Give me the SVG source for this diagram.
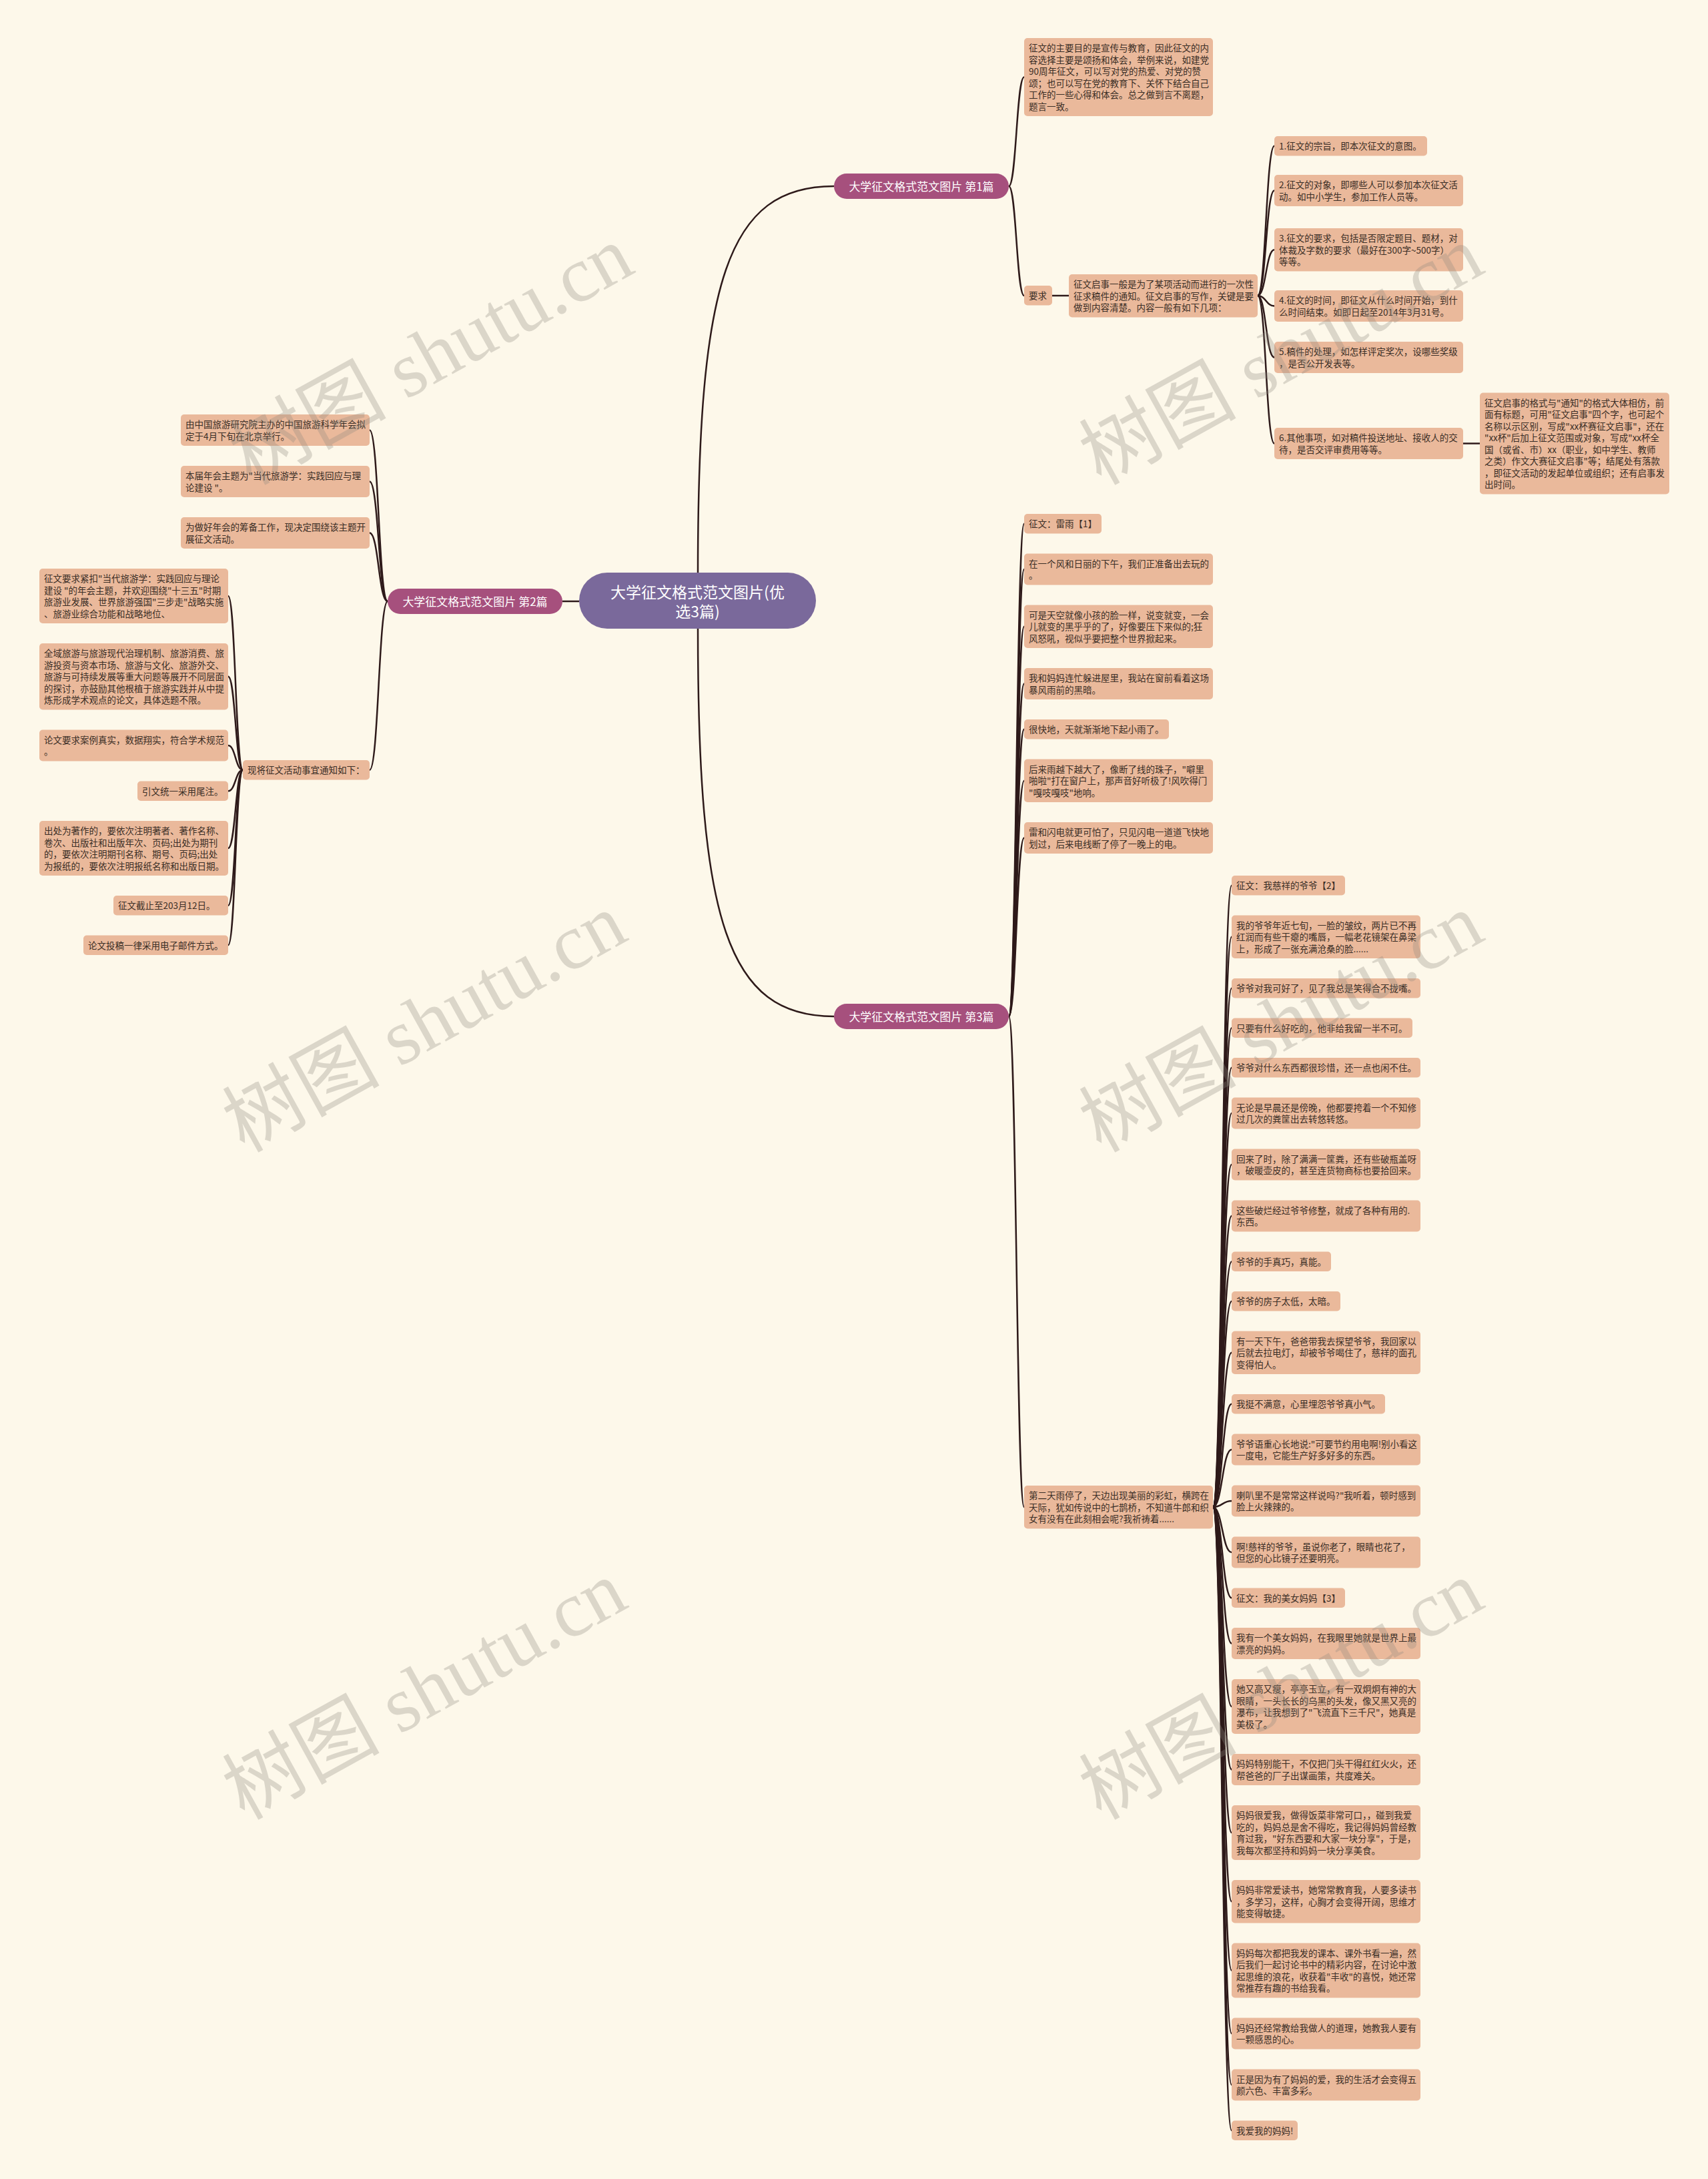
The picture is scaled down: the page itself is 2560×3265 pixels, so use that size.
<svg xmlns="http://www.w3.org/2000/svg" width="2560" height="3265" viewBox="0 0 2560 3265">
<style>
.bg{fill:#fdf8ea}
.box{fill:#eab99b}
.t{font-family:"Noto Sans CJK SC","Noto Sans",sans-serif;font-size:13.5px;fill:#3a2e26}
.ln{fill:none;stroke:#2e1a1a;stroke-width:2.5}
.br{fill:#a6507d}
.bt{font-family:"Noto Sans CJK SC","Noto Sans",sans-serif;font-size:17px;fill:#ffffff;text-anchor:middle}
.rootb{fill:#7a699b}
.rt{font-family:"Noto Sans CJK SC","Noto Sans",sans-serif;font-size:23px;fill:#ffffff;text-anchor:middle}
.wm{font-family:"Liberation Serif","Noto Sans CJK SC",serif;font-size:118px;fill:#8f8a80;opacity:0.3}
</style>
<rect class="bg" x="0" y="0" width="2560" height="3265"/>

<g id="connectors">
<path class="ln" d="M1046,858 C1046,420 1090,279 1250,279"/>
<path class="ln" d="M868,901 L843,901"/>
<path class="ln" d="M1046,942 C1046,1380 1090,1523 1250,1523"/>
<path class="ln" d="M1512,279 C1523.5,279 1523.5,115.5 1535,115.5"/>
<path class="ln" d="M1512,279 C1523.5,279 1523.5,443 1535,443"/>
<path class="ln" d="M1577,443 L1602,443"/>
<path class="ln" d="M1885,443 C1897.5,443 1897.5,218.75 1910,218.75"/>
<path class="ln" d="M1885,443 C1897.5,443 1897.5,285.5 1910,285.5"/>
<path class="ln" d="M1885,443 C1897.5,443 1897.5,374.25 1910,374.25"/>
<path class="ln" d="M1885,443 C1897.5,443 1897.5,458.5 1910,458.5"/>
<path class="ln" d="M1885,443 C1897.5,443 1897.5,535.5 1910,535.5"/>
<path class="ln" d="M1885,443 C1897.5,443 1897.5,664.5 1910,664.5"/>
<path class="ln" d="M2193,664.5 L2218,664.5"/>
<path class="ln" d="M581,901 C567.5,901 567.5,644.5 554,644.5"/>
<path class="ln" d="M581,901 C567.5,901 567.5,721.5 554,721.5"/>
<path class="ln" d="M581,901 C567.5,901 567.5,798.5 554,798.5"/>
<path class="ln" d="M581,901 C567.5,901 567.5,1153.75 554,1153.75"/>
<path class="ln" d="M364,1153.75 C353,1153.75 353,893 342,893"/>
<path class="ln" d="M364,1153.75 C353,1153.75 353,1013.75 342,1013.75"/>
<path class="ln" d="M364,1153.75 C353,1153.75 353,1117 342,1117"/>
<path class="ln" d="M364,1153.75 C353,1153.75 353,1185.25 342,1185.25"/>
<path class="ln" d="M364,1153.75 C353,1153.75 353,1271 342,1271"/>
<path class="ln" d="M364,1153.75 C353,1153.75 353,1356.75 342,1356.75"/>
<path class="ln" d="M364,1153.75 C353,1153.75 353,1416.25 342,1416.25"/>
<path class="ln" d="M1512,1523 C1523.5,1523 1523.5,784.75 1535,784.75"/>
<path class="ln" d="M1512,1523 C1523.5,1523 1523.5,853 1535,853"/>
<path class="ln" d="M1512,1523 C1523.5,1523 1523.5,938.75 1535,938.75"/>
<path class="ln" d="M1512,1523 C1523.5,1523 1523.5,1024.5 1535,1024.5"/>
<path class="ln" d="M1512,1523 C1523.5,1523 1523.5,1092.75 1535,1092.75"/>
<path class="ln" d="M1512,1523 C1523.5,1523 1523.5,1169.75 1535,1169.75"/>
<path class="ln" d="M1512,1523 C1523.5,1523 1523.5,1255.5 1535,1255.5"/>
<path class="ln" d="M1512,1523 C1523.5,1523 1523.5,2258.25 1535,2258.25"/>
<path class="ln" d="M1818,2258.25 C1832,2258.25 1832,1326.75 1846,1326.75"/>
<path class="ln" d="M1818,2258.25 C1832,2258.25 1832,1403.75 1846,1403.75"/>
<path class="ln" d="M1818,2258.25 C1832,2258.25 1832,1480.75 1846,1480.75"/>
<path class="ln" d="M1818,2258.25 C1832,2258.25 1832,1540.25 1846,1540.25"/>
<path class="ln" d="M1818,2258.25 C1832,2258.25 1832,1599.75 1846,1599.75"/>
<path class="ln" d="M1818,2258.25 C1832,2258.25 1832,1668 1846,1668"/>
<path class="ln" d="M1818,2258.25 C1832,2258.25 1832,1745 1846,1745"/>
<path class="ln" d="M1818,2258.25 C1832,2258.25 1832,1822 1846,1822"/>
<path class="ln" d="M1818,2258.25 C1832,2258.25 1832,1890.25 1846,1890.25"/>
<path class="ln" d="M1818,2258.25 C1832,2258.25 1832,1949.75 1846,1949.75"/>
<path class="ln" d="M1818,2258.25 C1832,2258.25 1832,2026.75 1846,2026.75"/>
<path class="ln" d="M1818,2258.25 C1832,2258.25 1832,2103.75 1846,2103.75"/>
<path class="ln" d="M1818,2258.25 C1832,2258.25 1832,2172 1846,2172"/>
<path class="ln" d="M1818,2258.25 C1832,2258.25 1832,2249 1846,2249"/>
<path class="ln" d="M1818,2258.25 C1832,2258.25 1832,2326 1846,2326"/>
<path class="ln" d="M1818,2258.25 C1832,2258.25 1832,2394.25 1846,2394.25"/>
<path class="ln" d="M1818,2258.25 C1832,2258.25 1832,2462.5 1846,2462.5"/>
<path class="ln" d="M1818,2258.25 C1832,2258.25 1832,2557 1846,2557"/>
<path class="ln" d="M1818,2258.25 C1832,2258.25 1832,2651.5 1846,2651.5"/>
<path class="ln" d="M1818,2258.25 C1832,2258.25 1832,2746 1846,2746"/>
<path class="ln" d="M1818,2258.25 C1832,2258.25 1832,2849.25 1846,2849.25"/>
<path class="ln" d="M1818,2258.25 C1832,2258.25 1832,2952.5 1846,2952.5"/>
<path class="ln" d="M1818,2258.25 C1832,2258.25 1832,3047 1846,3047"/>
<path class="ln" d="M1818,2258.25 C1832,2258.25 1832,3124 1846,3124"/>
<path class="ln" d="M1818,2258.25 C1832,2258.25 1832,3192.25 1846,3192.25"/>
</g>

<g id="root"><rect class="rootb" x="868" y="858" width="355" height="84" rx="42"/>
<text class="rt"><tspan x="1045.5" y="895.5">大学征文格式范文图片(优</tspan><tspan x="1045.5" y="924.5">选3篇)</tspan></text></g>

<g id="b1"><rect class="br" x="1250" y="260" width="262" height="38" rx="19"/><text class="bt" x="1381" y="285.5">大学征文格式范文图片 第1篇</text></g>
<g id="b2"><rect class="br" x="581" y="882" width="262" height="38" rx="19"/><text class="bt" x="712" y="907.5">大学征文格式范文图片 第2篇</text></g>
<g id="b3"><rect class="br" x="1250" y="1504" width="262" height="38" rx="19"/><text class="bt" x="1381" y="1529.5">大学征文格式范文图片 第3篇</text></g>

<g id="n1_note"><rect class="box" x="1535" y="57" width="283" height="117" rx="5"/>
<text class="t"><tspan x="1542" y="77">征文的主要目的是宣传与教育，因此征文的内</tspan><tspan x="1542" y="94.5">容选择主要是颂扬和体会，举例来说，如建党</tspan><tspan x="1542" y="112">90周年征文，可以写对党的热爱、对党的赞</tspan><tspan x="1542" y="129.5">颂；也可以写在党的教育下、关怀下结合自己</tspan><tspan x="1542" y="147">工作的一些心得和体会。总之做到言不离题，</tspan><tspan x="1542" y="164.5">题言一致。</tspan></text></g>
<g id="n1_req"><rect class="box" x="1535" y="428" width="42" height="29.5" rx="5"/><text class="t" x="1542" y="448">要求</text></g>
<g id="n1_desc"><rect class="box" x="1602" y="411" width="283" height="64.5" rx="5"/>
<text class="t"><tspan x="1609" y="431">征文启事一般是为了某项活动而进行的一次性</tspan><tspan x="1609" y="448.5">征求稿件的通知。征文启事的写作，关键是要</tspan><tspan x="1609" y="466">做到内容清楚。内容一般有如下几项：</tspan></text></g>
<g id="n1_i1"><rect class="box" x="1910" y="204" width="229" height="29.5" rx="5"/><text class="t" x="1917" y="224">1.征文的宗旨，即本次征文的意图。</text></g>
<g id="n1_i2"><rect class="box" x="1910" y="262" width="283" height="47" rx="5"/><text class="t"><tspan x="1917" y="282">2.征文的对象，即哪些人可以参加本次征文活</tspan><tspan x="1917" y="299.5">动。如中小学生，参加工作人员等。</tspan></text></g>
<g id="n1_i3"><rect class="box" x="1910" y="342" width="283" height="64.5" rx="5"/><text class="t"><tspan x="1917" y="362">3.征文的要求，包括是否限定题目、题材，对</tspan><tspan x="1917" y="379.5">体裁及字数的要求（最好在300字~500字）</tspan><tspan x="1917" y="397">等等。</tspan></text></g>
<g id="n1_i4"><rect class="box" x="1910" y="435" width="283" height="47" rx="5"/><text class="t"><tspan x="1917" y="455">4.征文的时间，即征文从什么时间开始，到什</tspan><tspan x="1917" y="472.5">么时间结束。如即日起至2014年3月31号。</tspan></text></g>
<g id="n1_i5"><rect class="box" x="1910" y="512" width="283" height="47" rx="5"/><text class="t"><tspan x="1917" y="532">5.稿件的处理，如怎样评定奖次，设哪些奖级</tspan><tspan x="1917" y="549.5">，是否公开发表等。</tspan></text></g>
<g id="n1_i6"><rect class="box" x="1910" y="641" width="283" height="47" rx="5"/><text class="t"><tspan x="1917" y="661">6.其他事项，如对稿件投送地址、接收人的交</tspan><tspan x="1917" y="678.5">待，是否交评审费用等等。</tspan></text></g>
<g id="n1_fmt"><rect class="box" x="2218" y="588.5" width="284" height="152" rx="5"/><text class="t"><tspan x="2225" y="608.5">征文启事的格式与"通知"的格式大体相仿，前</tspan><tspan x="2225" y="626">面有标题，可用"征文启事"四个字，也可起个</tspan><tspan x="2225" y="643.5">名称以示区别，写成"xx杯赛征文启事"，还在</tspan><tspan x="2225" y="661">"xx杯"后加上征文范围或对象，写成"xx杯全</tspan><tspan x="2225" y="678.5">国（或省、市）xx（职业，如中学生、教师</tspan><tspan x="2225" y="696">之类）作文大赛征文启事"等；结尾处有落款</tspan><tspan x="2225" y="713.5">，即征文活动的发起单位或组织；还有启事发</tspan><tspan x="2225" y="731">出时间。</tspan></text></g>

<g id="n2_t1"><rect class="box" x="271" y="621" width="283" height="47" rx="5"/><text class="t"><tspan x="278" y="641">由中国旅游研究院主办的中国旅游科学年会拟</tspan><tspan x="278" y="658.5">定于4月下旬在北京举行。</tspan></text></g>
<g id="n2_t2"><rect class="box" x="271" y="698" width="283" height="47" rx="5"/><text class="t"><tspan x="278" y="718">本届年会主题为"当代旅游学：实践回应与理</tspan><tspan x="278" y="735.5">论建设 "。</tspan></text></g>
<g id="n2_t3"><rect class="box" x="271" y="775" width="283" height="47" rx="5"/><text class="t"><tspan x="278" y="795">为做好年会的筹备工作，现决定围绕该主题开</tspan><tspan x="278" y="812.5">展征文活动。</tspan></text></g>
<g id="n2_notice"><rect class="box" x="364" y="1139" width="190" height="29.5" rx="5"/><text class="t" x="371" y="1159">现将征文活动事宜通知如下：</text></g>
<g id="n2_c1"><rect class="box" x="59" y="852" width="283" height="82" rx="5"/><text class="t"><tspan x="66" y="872">征文要求紧扣"当代旅游学：实践回应与理论</tspan><tspan x="66" y="889.5">建设 "的年会主题，并欢迎围绕"十三五"时期</tspan><tspan x="66" y="907">旅游业发展、世界旅游强国"三步走"战略实施</tspan><tspan x="66" y="924.5">、旅游业综合功能和战略地位、</tspan></text></g>
<g id="n2_c2"><rect class="box" x="59" y="964" width="283" height="99.5" rx="5"/><text class="t"><tspan x="66" y="984">全域旅游与旅游现代治理机制、旅游消费、旅</tspan><tspan x="66" y="1001.5">游投资与资本市场、旅游与文化、旅游外交、</tspan><tspan x="66" y="1019">旅游与可持续发展等重大问题等展开不同层面</tspan><tspan x="66" y="1036.5">的探讨，亦鼓励其他根植于旅游实践并从中提</tspan><tspan x="66" y="1054">炼形成学术观点的论文，具体选题不限。</tspan></text></g>
<g id="n2_c3"><rect class="box" x="59" y="1093.5" width="283" height="47" rx="5"/><text class="t"><tspan x="66" y="1113.5">论文要求案例真实，数据翔实，符合学术规范</tspan><tspan x="66" y="1131">。</tspan></text></g>
<g id="n2_c4"><rect class="box" x="206" y="1170.5" width="136" height="29.5" rx="5"/><text class="t" x="213" y="1190.5">引文统一采用尾注。</text></g>
<g id="n2_c5"><rect class="box" x="59" y="1230" width="283" height="82" rx="5"/><text class="t"><tspan x="66" y="1250">出处为著作的，要依次注明著者、著作名称、</tspan><tspan x="66" y="1267.5">卷次、出版社和出版年次、页码;出处为期刊</tspan><tspan x="66" y="1285">的，要依次注明期刊名称、期号、页码;出处</tspan><tspan x="66" y="1302.5">为报纸的，要依次注明报纸名称和出版日期。</tspan></text></g>
<g id="n2_c6"><rect class="box" x="170" y="1342" width="172" height="29.5" rx="5"/><text class="t" x="177" y="1362">征文截止至203月12日。</text></g>
<g id="n2_c7"><rect class="box" x="125" y="1401.5" width="217" height="29.5" rx="5"/><text class="t" x="132" y="1421.5">论文投稿一律采用电子邮件方式。</text></g>

<g id="n3_a1"><rect class="box" x="1535" y="770" width="116" height="29.5" rx="5"/><text class="t" x="1542" y="790">征文：雷雨【1】</text></g>
<g id="n3_a2"><rect class="box" x="1535" y="829.5" width="283" height="47" rx="5"/><text class="t"><tspan x="1542" y="849.5">在一个风和日丽的下午，我们正准备出去玩的</tspan><tspan x="1542" y="867">。</tspan></text></g>
<g id="n3_a3"><rect class="box" x="1535" y="906.5" width="283" height="64.5" rx="5"/><text class="t"><tspan x="1542" y="926.5">可是天空就像小孩的脸一样，说变就变，一会</tspan><tspan x="1542" y="944">儿就变的黑乎乎的了，好像要压下来似的;狂</tspan><tspan x="1542" y="961.5">风怒吼，视似乎要把整个世界掀起来。</tspan></text></g>
<g id="n3_a4"><rect class="box" x="1535" y="1001" width="283" height="47" rx="5"/><text class="t"><tspan x="1542" y="1021">我和妈妈连忙躲进屋里，我站在窗前看着这场</tspan><tspan x="1542" y="1038.5">暴风雨前的黑暗。</tspan></text></g>
<g id="n3_a5"><rect class="box" x="1535" y="1078" width="217" height="29.5" rx="5"/><text class="t" x="1542" y="1098">很快地，天就渐渐地下起小雨了。</text></g>
<g id="n3_a6"><rect class="box" x="1535" y="1137.5" width="283" height="64.5" rx="5"/><text class="t"><tspan x="1542" y="1157.5">后来雨越下越大了，像断了线的珠子，"噼里</tspan><tspan x="1542" y="1175">啪啦"打在窗户上，那声音好听极了!风吹得门</tspan><tspan x="1542" y="1192.5">"嘎吱嘎吱"地响。</tspan></text></g>
<g id="n3_a7"><rect class="box" x="1535" y="1232" width="283" height="47" rx="5"/><text class="t"><tspan x="1542" y="1252">雷和闪电就更可怕了，只见闪电一道道飞快地</tspan><tspan x="1542" y="1269.5">划过，后来电线断了停了一晚上的电。</tspan></text></g>
<g id="n3_a8"><rect class="box" x="1535" y="2226" width="283" height="64.5" rx="5"/><text class="t"><tspan x="1542" y="2246">第二天雨停了，天边出现美丽的彩虹，横跨在</tspan><tspan x="1542" y="2263.5">天际，犹如传说中的七鹊桥，不知道牛郎和织</tspan><tspan x="1542" y="2281">女有没有在此刻相会呢?我祈祷着......</tspan></text></g>

<g id="n3_b1"><rect class="box" x="1846" y="1312" width="170" height="29.5" rx="5"/><text class="t" x="1853" y="1332">征文：我慈祥的爷爷【2】</text></g>
<g id="n3_b2"><rect class="box" x="1846" y="1371.5" width="283" height="64.5" rx="5"/><text class="t"><tspan x="1853" y="1391.5">我的爷爷年近七旬，一脸的皱纹，两片已不再</tspan><tspan x="1853" y="1409">红润而有些干瘪的嘴唇，一幅老花镜架在鼻梁</tspan><tspan x="1853" y="1426.5">上，形成了一张充满沧桑的脸......</tspan></text></g>
<g id="n3_b3"><rect class="box" x="1846" y="1466" width="283" height="29.5" rx="5"/><text class="t" x="1853" y="1486">爷爷对我可好了，见了我总是笑得合不拢嘴。</text></g>
<g id="n3_b4"><rect class="box" x="1846" y="1525.5" width="271" height="29.5" rx="5"/><text class="t" x="1853" y="1545.5">只要有什么好吃的，他非给我留一半不可。</text></g>
<g id="n3_b5"><rect class="box" x="1846" y="1585" width="283" height="29.5" rx="5"/><text class="t" x="1853" y="1605">爷爷对什么东西都很珍惜，还一点也闲不住。</text></g>
<g id="n3_b6"><rect class="box" x="1846" y="1644.5" width="283" height="47" rx="5"/><text class="t"><tspan x="1853" y="1664.5">无论是早晨还是傍晚，他都要挎着一个不知修</tspan><tspan x="1853" y="1682">过几次的粪筐出去转悠转悠。</tspan></text></g>
<g id="n3_b7"><rect class="box" x="1846" y="1721.5" width="283" height="47" rx="5"/><text class="t"><tspan x="1853" y="1741.5">回来了时，除了满满一筐粪，还有些破瓶盖呀</tspan><tspan x="1853" y="1759">，破暖壶皮的，甚至连货物商标也要拾回来。</tspan></text></g>
<g id="n3_b8"><rect class="box" x="1846" y="1798.5" width="283" height="47" rx="5"/><text class="t"><tspan x="1853" y="1818.5">这些破烂经过爷爷修整，就成了各种有用的.</tspan><tspan x="1853" y="1836">东西。</tspan></text></g>
<g id="n3_b9"><rect class="box" x="1846" y="1875.5" width="149" height="29.5" rx="5"/><text class="t" x="1853" y="1895.5">爷爷的手真巧，真能。</text></g>
<g id="n3_b10"><rect class="box" x="1846" y="1935" width="163" height="29.5" rx="5"/><text class="t" x="1853" y="1955">爷爷的房子太低，太暗。</text></g>
<g id="n3_b11"><rect class="box" x="1846" y="1994.5" width="283" height="64.5" rx="5"/><text class="t"><tspan x="1853" y="2014.5">有一天下午，爸爸带我去探望爷爷，我回家以</tspan><tspan x="1853" y="2032">后就去拉电灯，却被爷爷喝住了，慈祥的面孔</tspan><tspan x="1853" y="2049.5">变得怕人。</tspan></text></g>
<g id="n3_b12"><rect class="box" x="1846" y="2089" width="230" height="29.5" rx="5"/><text class="t" x="1853" y="2109">我挺不满意，心里埋怨爷爷真小气。</text></g>
<g id="n3_b13"><rect class="box" x="1846" y="2148.5" width="283" height="47" rx="5"/><text class="t"><tspan x="1853" y="2168.5">爷爷语重心长地说:"可要节约用电啊!别小看这</tspan><tspan x="1853" y="2186">一度电，它能生产好多好多的东西。</tspan></text></g>
<g id="n3_b14"><rect class="box" x="1846" y="2225.5" width="283" height="47" rx="5"/><text class="t"><tspan x="1853" y="2245.5">喇叭里不是常常这样说吗?"我听着，顿时感到</tspan><tspan x="1853" y="2263">脸上火辣辣的。</tspan></text></g>
<g id="n3_b15"><rect class="box" x="1846" y="2302.5" width="283" height="47" rx="5"/><text class="t"><tspan x="1853" y="2322.5">啊!慈祥的爷爷，虽说你老了，眼睛也花了，</tspan><tspan x="1853" y="2340">但您的心比镜子还要明亮。</tspan></text></g>
<g id="n3_b16"><rect class="box" x="1846" y="2379.5" width="170" height="29.5" rx="5"/><text class="t" x="1853" y="2399.5">征文：我的美女妈妈【3】</text></g>
<g id="n3_b17"><rect class="box" x="1846" y="2439" width="283" height="47" rx="5"/><text class="t"><tspan x="1853" y="2459">我有一个美女妈妈，在我眼里她就是世界上最</tspan><tspan x="1853" y="2476.5">漂亮的妈妈。</tspan></text></g>
<g id="n3_b18"><rect class="box" x="1846" y="2516" width="283" height="82" rx="5"/><text class="t"><tspan x="1853" y="2536">她又高又瘦，亭亭玉立，有一双炯炯有神的大</tspan><tspan x="1853" y="2553.5">眼睛，一头长长的乌黑的头发，像又黑又亮的</tspan><tspan x="1853" y="2571">瀑布，让我想到了"飞流直下三千尺"，她真是</tspan><tspan x="1853" y="2588.5">美极了。</tspan></text></g>
<g id="n3_b19"><rect class="box" x="1846" y="2628" width="283" height="47" rx="5"/><text class="t"><tspan x="1853" y="2648">妈妈特别能干，不仅把门头干得红红火火，还</tspan><tspan x="1853" y="2665.5">帮爸爸的厂子出谋画策，共度难关。</tspan></text></g>
<g id="n3_b20"><rect class="box" x="1846" y="2705" width="283" height="82" rx="5"/><text class="t"><tspan x="1853" y="2725">妈妈很爱我，做得饭菜非常可口，，碰到我爱</tspan><tspan x="1853" y="2742.5">吃的，妈妈总是舍不得吃，我记得妈妈曾经教</tspan><tspan x="1853" y="2760">育过我，"好东西要和大家一块分享"，于是，</tspan><tspan x="1853" y="2777.5">我每次都坚持和妈妈一块分享美食。</tspan></text></g>
<g id="n3_b21"><rect class="box" x="1846" y="2817" width="283" height="64.5" rx="5"/><text class="t"><tspan x="1853" y="2837">妈妈非常爱读书，她常常教育我，人要多读书</tspan><tspan x="1853" y="2854.5">，多学习，这样，心胸才会变得开阔，思维才</tspan><tspan x="1853" y="2872">能变得敏捷。</tspan></text></g>
<g id="n3_b22"><rect class="box" x="1846" y="2911.5" width="283" height="82" rx="5"/><text class="t"><tspan x="1853" y="2931.5">妈妈每次都把我发的课本、课外书看一遍，然</tspan><tspan x="1853" y="2949">后我们一起讨论书中的精彩内容，在讨论中激</tspan><tspan x="1853" y="2966.5">起思维的浪花，收获着"丰收"的喜悦，她还常</tspan><tspan x="1853" y="2984">常推荐有趣的书给我看。</tspan></text></g>
<g id="n3_b23"><rect class="box" x="1846" y="3023.5" width="283" height="47" rx="5"/><text class="t"><tspan x="1853" y="3043.5">妈妈还经常教给我做人的道理，她教我人要有</tspan><tspan x="1853" y="3061">一颗感恩的心。</tspan></text></g>
<g id="n3_b24"><rect class="box" x="1846" y="3100.5" width="283" height="47" rx="5"/><text class="t"><tspan x="1853" y="3120.5">正是因为有了妈妈的爱，我的生活才会变得五</tspan><tspan x="1853" y="3138">颜六色、丰富多彩。</tspan></text></g>
<g id="n3_b25"><rect class="box" x="1846" y="3177.5" width="99" height="29.5" rx="5"/><text class="t" x="1853" y="3197.5">我爱我的妈妈!</text></g>

<g id="watermark">
<text class="wm" transform="translate(376,728) rotate(-29)">树图 shutu.cn</text>
<text class="wm" transform="translate(366,1728) rotate(-29)">树图 shutu.cn</text>
<text class="wm" transform="translate(366,2728) rotate(-29)">树图 shutu.cn</text>
<text class="wm" transform="translate(1650,728) rotate(-29)">树图 shutu.cn</text>
<text class="wm" transform="translate(1650,1728) rotate(-29)">树图 shutu.cn</text>
<text class="wm" transform="translate(1650,2728) rotate(-29)">树图 shutu.cn</text>
</g>
</svg>
